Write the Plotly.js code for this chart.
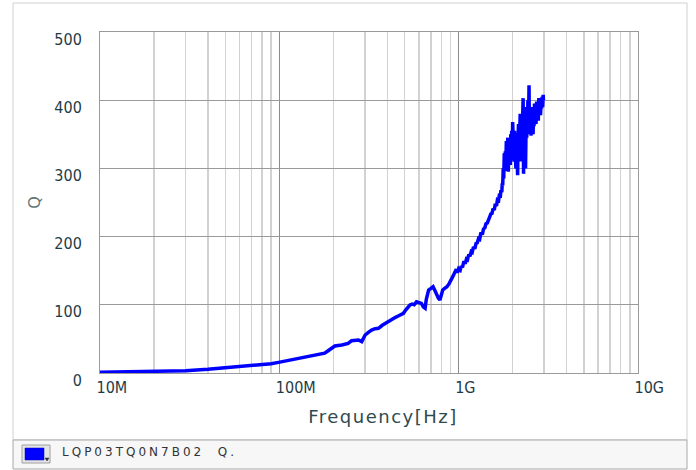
<!DOCTYPE html>
<html>
<head>
<meta charset="utf-8">
<script src="https://cdn.plot.ly/plotly-3.0.1.min.js"></script>
<style>
  html, body { margin: 0; padding: 0; background: #ffffff; }
  #chart { width: 696px; height: 470px; }
  .annotation-text { letter-spacing: 3px; }
  .xtitle { letter-spacing: 1.5px; transform: translate(14px, 0px); }
</style>
</head>
<body>
<div id="chart"></div>
<script>
// ---- data (frequency in MHz, Q) ----
const seriesName = "LQP03TQ0N7B02  Q.";
const freqMHz = [
  10, 13, 17, 22, 30, 40, 50, 60, 70, 80, 90, 99, 115, 130, 145, 165, 179, 188,
  204, 223, 242, 253, 265, 276, 288, 301, 315, 327, 342, 357, 375, 389, 398, 415,
  433, 447, 460, 475, 492, 505, 523, 535, 550, 565, 582, 600, 620, 635, 650, 660,
  670, 680, 700, 720, 735, 750, 770, 786, 800, 815, 835, 860, 885, 910, 930, 955,
  970, 985, 1000, 1020, 1035, 1050, 1070, 1087, 1105, 1120, 1140, 1156, 1175, 1190,
  1210, 1230, 1250, 1270, 1290, 1310, 1330, 1355, 1375, 1400, 1420, 1445, 1465, 1490,
  1510, 1535, 1555, 1580, 1600, 1625, 1645, 1670, 1690, 1705, 1720, 1740, 1750,
  1760, 1772, 1784, 1796, 1808, 1820, 1832, 1844, 1856, 1868, 1880, 1892, 1904, 1916,
  1928, 1940, 1952, 1964, 1976, 1988, 2000, 2012, 2024, 2036, 2048, 2060, 2072, 2084,
  2096, 2108, 2120, 2132, 2144, 2156, 2168, 2180, 2192, 2204, 2216, 2228, 2240, 2252,
  2264, 2276, 2288, 2300, 2312, 2324, 2336, 2348, 2360, 2372, 2384, 2396, 2408, 2420,
  2432, 2444, 2456, 2468, 2480, 2492, 2504, 2520, 2536, 2552, 2568, 2584, 2600, 2616,
  2632, 2648, 2664, 2680, 2700, 2720, 2740, 2760, 2780, 2800, 2820, 2840, 2860, 2880,
  2900, 2920, 2940, 2960, 2970
];
const qValues = [
  1, 1.6, 2.3, 2.8, 3.4, 5.5, 7.5, 9, 10.5, 11.7, 13.6, 15.6, 19, 22, 24, 27, 29, 33,
  39.6, 41, 43.5, 47.4, 48, 48.4, 46, 55.7, 60, 63, 65, 65.5, 70, 72.8, 73, 77,
  80, 82, 83.5, 86, 87.5, 92, 97, 99.7, 101, 100, 104.5, 103, 102, 97, 95, 108,
  118, 121.7, 124, 126.5, 121.7, 115, 110, 107, 115, 121.7, 124, 126.5, 131, 136, 142, 148.5,
  152, 147, 153, 151, 157, 155, 164, 160, 167, 166, 174, 171, 178, 177,
  185, 182, 190, 191, 197, 196, 206, 203, 211, 213, 219, 220, 226, 229,
  233, 234, 241, 239, 248, 245, 254, 253, 263, 257, 268, 265, 278,
  275, 300, 285, 322, 296, 325, 305, 340, 300, 330, 345, 295, 335, 318,
  340, 305, 350, 320, 355, 312, 368, 330, 345, 310, 355, 330, 340, 300,
  352, 320, 348, 290, 345, 365, 320, 375, 335, 380, 310, 360, 378, 330,
  395, 340, 403, 292, 365, 385, 330, 375, 300, 355, 390, 345, 372, 360,
  400, 350, 380, 422, 355, 395, 365, 380, 348, 390, 360, 378, 350, 385,
  362, 395, 370, 388, 365, 398, 375, 392, 370, 403, 385, 400, 378, 395,
  388, 405, 390, 408, 400
];
const xTickVals = [1e7, 1e8, 1e9, 1e10];
const xTickText = ["10M", "100M", "1G", "10G"];
const yTickVals = [0, 100, 200, 300, 400, 500];
const yTickText = ["0", "100", "200", "300", "400", "500"];

// minor grid positions (2..9 within each decade)
const minorVals = [];
for (let d = 7; d < 10; d++) {
  for (let m = 2; m <= 9; m++) minorVals.push(m * Math.pow(10, d));
}

// ---- geometry helpers (pixel -> paper) ----
const W = 696, H = 470;
const M = { l: 100, r: 58, t: 32, b: 97 };
const pw = W - M.l - M.r, ph = H - M.t - M.b;
const px = x => (x - M.l) / pw;
const py = y => (H - M.b - y) / ph;

const trace = {
  type: "scatter",
  mode: "lines",
  x: freqMHz.map(f => f * 1e6),
  y: qValues,
  name: seriesName,
  line: { color: "#0000ff", width: 3.5 },
  showlegend: false,
  hoverinfo: "skip"
};

const tickFont = { family: "DejaVu Sans Condensed, DejaVu Sans, sans-serif", size: 16, color: "#1f3c46" };

const layout = {
  width: W, height: H,
  margin: M,
  paper_bgcolor: "#ffffff",
  plot_bgcolor: "#ffffff",
  showlegend: false,
  xaxis: {
    type: "log",
    range: [7, 10],
    tickvals: xTickVals,
    ticktext: xTickText,
    ticks: "",
    ticklabelposition: "outside right",
    ticklabelshift: -4,
    tickfont: tickFont,
    showgrid: true,
    gridcolor: "#8c8c8c",
    gridwidth: 1,
    minor: { tickvals: minorVals, showgrid: true, gridcolor: "#d2d2d2", gridwidth: 1.5, ticks: "" },
    showline: true, mirror: true, linecolor: "#9a9a9a", linewidth: 1,
    zeroline: false,
    title: { text: "Frequency[Hz]", font: { family: "DejaVu Sans, sans-serif", size: 18, color: "#2f4a50" }, standoff: 14 }
  },
  yaxis: {
    range: [0, 500],
    tickvals: yTickVals,
    ticktext: yTickText,
    ticks: "",
    tickfont: tickFont,
    ticklabelstandoff: 14,
    ticklabelshift: 7,
    showgrid: true,
    gridcolor: "#9a9a9a",
    gridwidth: 1,
    showline: true, mirror: true, linecolor: "#9a9a9a", linewidth: 1,
    zeroline: false,
    title: { text: "Q", font: { family: "DejaVu Sans, sans-serif", size: 16, color: "#667777" }, standoff: 9 }
  },
  shapes: [
    // outer frame
    { type: "rect", xref: "paper", yref: "paper", x0: px(13), x1: px(687), y0: py(440), y1: py(3),
      line: { color: "#d0d0d0", width: 1 }, fillcolor: "rgba(0,0,0,0)", layer: "below" },
    // legend strip
    { type: "rect", xref: "paper", yref: "paper", x0: px(13), x1: px(687), y0: py(469), y1: py(440),
      line: { color: "#a8a8a8", width: 1 }, fillcolor: "#f7f7f7", layer: "below" },
    // swatch button
    { type: "rect", xref: "paper", yref: "paper", x0: px(22), x1: px(50), y0: py(463), y1: py(445),
      line: { color: "#a0a0a0", width: 1 }, fillcolor: "#e4e4e4" },
    { type: "rect", xref: "paper", yref: "paper", x0: px(25), x1: px(44), y0: py(460), y1: py(448),
      line: { color: "#0000c0", width: 0.5 }, fillcolor: "#0000ff" },
    { type: "path", xref: "paper", yref: "paper",
      path: `M ${px(45)} ${py(458)} L ${px(49)} ${py(458)} L ${px(47)} ${py(461)} Z`,
      line: { color: "#333333", width: 0.5 }, fillcolor: "#333333" }
  ],
  annotations: [
    { xref: "paper", yref: "paper", x: px(60), y: py(452), xanchor: "left", yanchor: "middle",
      text: seriesName, showarrow: false,
      font: { family: "DejaVu Sans, sans-serif", size: 12, color: "#333333" } }
  ]
};

Plotly.newPlot("chart", [trace], layout, { displayModeBar: false, responsive: false, staticPlot: true });
</script>
</body>
</html>
